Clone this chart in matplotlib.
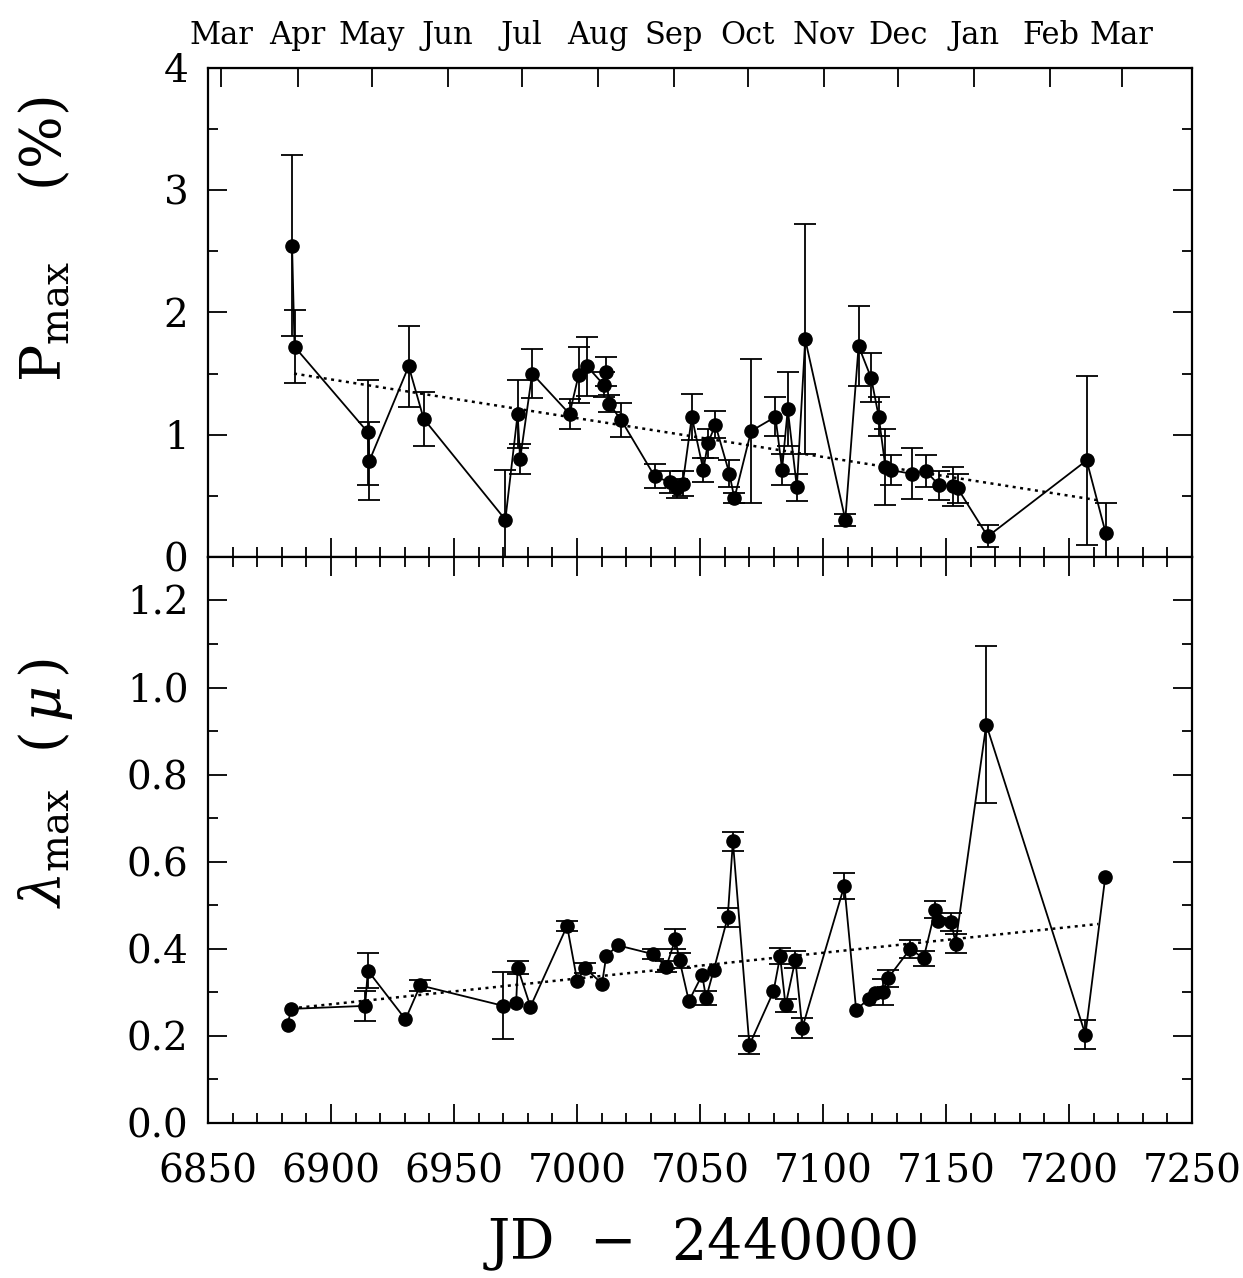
import numpy as np
import matplotlib
matplotlib.use('Agg')
import matplotlib.pyplot as plt
from matplotlib.ticker import MultipleLocator

plt.rcParams['font.family'] = ['DejaVu Serif']
plt.rcParams['mathtext.fontset'] = 'dejavuserif'

# top panel: P_max (%)
jd_p = [6884.2, 6885.2, 6915.0, 6915.6, 6931.6, 6937.7, 6970.9, 6975.9, 6976.9, 6981.8,
        6997.0, 7000.7, 7004.1, 7010.8, 7011.9, 7013.0, 7018.0, 7031.6, 7037.9, 7040.6,
        7043.0, 7046.7, 7051.4, 7053.2, 7056.3, 7062.0, 7064.0, 7070.8, 7080.7, 7083.4,
        7085.7, 7089.4, 7092.8, 7109.1, 7114.5, 7119.6, 7122.7, 7125.4, 7127.7, 7136.3,
        7141.9, 7147.3, 7153.0, 7154.8, 7167.0, 7207.2, 7214.9]
p_max = [2.545, 1.72, 1.02, 0.785, 1.56, 1.13, 0.305, 1.17, 0.80, 1.50,
         1.17, 1.49, 1.56, 1.41, 1.515, 1.255, 1.12, 0.66, 0.61, 0.56,
         0.60, 1.146, 0.71, 0.93, 1.08, 0.68, 0.48, 1.03, 1.146, 0.715,
         1.21, 0.57, 1.78, 0.305, 1.725, 1.465, 1.146, 0.735, 0.71, 0.68,
         0.70, 0.586, 0.578, 0.56, 0.168, 0.79, 0.20]
p_err = [0.74, 0.30, 0.43, 0.32, 0.33, 0.22, 0.41, 0.28, 0.12, 0.20,
         0.12, 0.23, 0.24, 0.10, 0.12, 0.07, 0.14, 0.10, 0.09, 0.08,
         0.10, 0.19, 0.10, 0.12, 0.11, 0.11, 0.04, 0.59, 0.16, 0.13,
         0.30, 0.11, 0.94, 0.05, 0.33, 0.20, 0.16, 0.31, 0.12, 0.21,
         0.13, 0.12, 0.16, 0.12, 0.09, 0.69, 0.24]
trend_p_jd = [6885, 7213]
trend_p = [1.50, 0.46]

# bottom panel: lambda_max (micron)
jd_l = [6882.4, 6883.8, 6913.9, 6915.0, 6930.3, 6936.3, 6970.1, 6975.3, 6975.9, 6981.1,
        6996.0, 7000.1, 7003.3, 7010.2, 7011.9, 7016.6, 7030.8, 7036.3, 7040.0, 7041.7,
        7045.5, 7050.9, 7052.5, 7055.6, 7061.3, 7063.4, 7070.1, 7079.9, 7082.6, 7084.8,
        7088.8, 7091.6, 7108.7, 7113.5, 7118.6, 7121.3, 7124.3, 7126.4, 7135.5, 7140.9,
        7145.7, 7146.7, 7152.2, 7153.9, 7166.4, 7206.7, 7214.8]
lam_max = [0.226, 0.262, 0.269, 0.35, 0.238, 0.316, 0.269, 0.276, 0.357, 0.267,
           0.4525, 0.327, 0.356, 0.32, 0.383, 0.408, 0.388, 0.359, 0.422, 0.374,
           0.28, 0.34, 0.287, 0.351, 0.4725, 0.647, 0.179, 0.302, 0.383, 0.27,
           0.375, 0.218, 0.545, 0.26, 0.285, 0.299, 0.30, 0.332, 0.40, 0.378,
           0.49, 0.465, 0.462, 0.412, 0.915, 0.203, 0.566]
lam_err = [0, 0, 0.035, 0.04, 0, 0.013, 0.077, 0, 0.014, 0,
           0.012, 0, 0.012, 0, 0, 0, 0.012, 0.013, 0.023, 0.017,
           0, 0, 0.017, 0, 0.022, 0.022, 0.02, 0, 0.018, 0.014,
           0.019, 0.023, 0.03, 0, 0, 0, 0.03, 0.02, 0.02, 0.018,
           0.02, 0, 0.02, 0.022, 0.18, 0.034, 0]
trend_l_jd = [6887, 7212]
trend_l = [0.265, 0.457]

months = ['Mar', 'Apr', 'May', 'Jun', 'Jul', 'Aug', 'Sep', 'Oct', 'Nov', 'Dec', 'Jan', 'Feb', 'Mar']
month_jd = [6855.5, 6886.5, 6916.5, 6947.5, 6977.5, 7008.5, 7039.5, 7069.5, 7100.5,
            7130.5, 7161.5, 7192.5, 7221.5]

fig = plt.figure(figsize=(12.43, 12.78), dpi=100)
ax1 = fig.add_axes([0.1673, 0.5642, 0.7916, 0.3826])
ax2 = fig.add_axes([0.1673, 0.1213, 0.7916, 0.4429])


def draw(ax, x, y, err, tx, ty):
    x = np.array(x)
    y = np.array(y)
    err = np.array(err)
    m = err > 0
    ax.errorbar(x[m], y[m], yerr=err[m], fmt='none', ecolor='black',
                elinewidth=1.3, capsize=8, capthick=1.3, zorder=2)
    ax.plot(x, y, '-', color='black', lw=1.3, zorder=3)
    ax.plot(x, y, 'o', color='black', ms=9.5, zorder=4)
    ax.plot(tx, ty, linestyle=(0, (1.2, 1.8)), color='black', lw=1.8, zorder=1)


draw(ax1, jd_p, p_max, p_err, trend_p_jd, trend_p)
draw(ax2, jd_l, lam_max, lam_err, trend_l_jd, trend_l)

for ax in (ax1, ax2):
    ax.set_xlim(6850, 7250)
    for s in ax.spines.values():
        s.set_linewidth(1.6)
    ax.xaxis.set_major_locator(MultipleLocator(50))
    ax.xaxis.set_minor_locator(MultipleLocator(10))
    ax.tick_params(which='both', direction='in', right=True, top=True,
                   labelsize=28, width=1.3)
    ax.tick_params(which='major', length=14)
    ax.tick_params(which='minor', length=7)
    ax.tick_params(axis='y', pad=14)

ax1.set_ylim(0, 4)
ax1.yaxis.set_major_locator(MultipleLocator(1))
ax1.yaxis.set_minor_locator(MultipleLocator(0.5))
ax1.tick_params(axis='x', labelbottom=False)

# month ticks on top of upper panel
top = ax1.secondary_xaxis('top')
top.set_xticks(month_jd)
top.set_xticklabels(months, fontsize=22)
top.tick_params(direction='in', length=14, width=1.3, pad=12)
top.xaxis.set_minor_locator(plt.NullLocator())
ax1.tick_params(axis='x', which='both', top=False)

ax2.set_ylim(0, 1.3)
ax2.yaxis.set_minor_locator(MultipleLocator(0.1))
ax2.set_yticks(np.arange(0, 1.21, 0.2))
ax2.set_yticklabels(['%.1f' % v for v in np.arange(0, 1.21, 0.2)])
ax2.tick_params(axis='x', pad=22)

ax1.set_ylabel(r'$\mathrm{P}_{\mathrm{max}}$    (%)', fontsize=40, va='center')
ax1.yaxis.set_label_coords(-0.165, 0.65)
ax2.set_ylabel(r'$\lambda_{\mathrm{max}}$  $(\,\mu\,)$', fontsize=40, va='center')
ax2.yaxis.set_label_coords(-0.165, 0.60)
ax2.set_xlabel('JD  $-$  2440000', fontsize=40, labelpad=18)

fig.savefig('out.png', dpi=100)
